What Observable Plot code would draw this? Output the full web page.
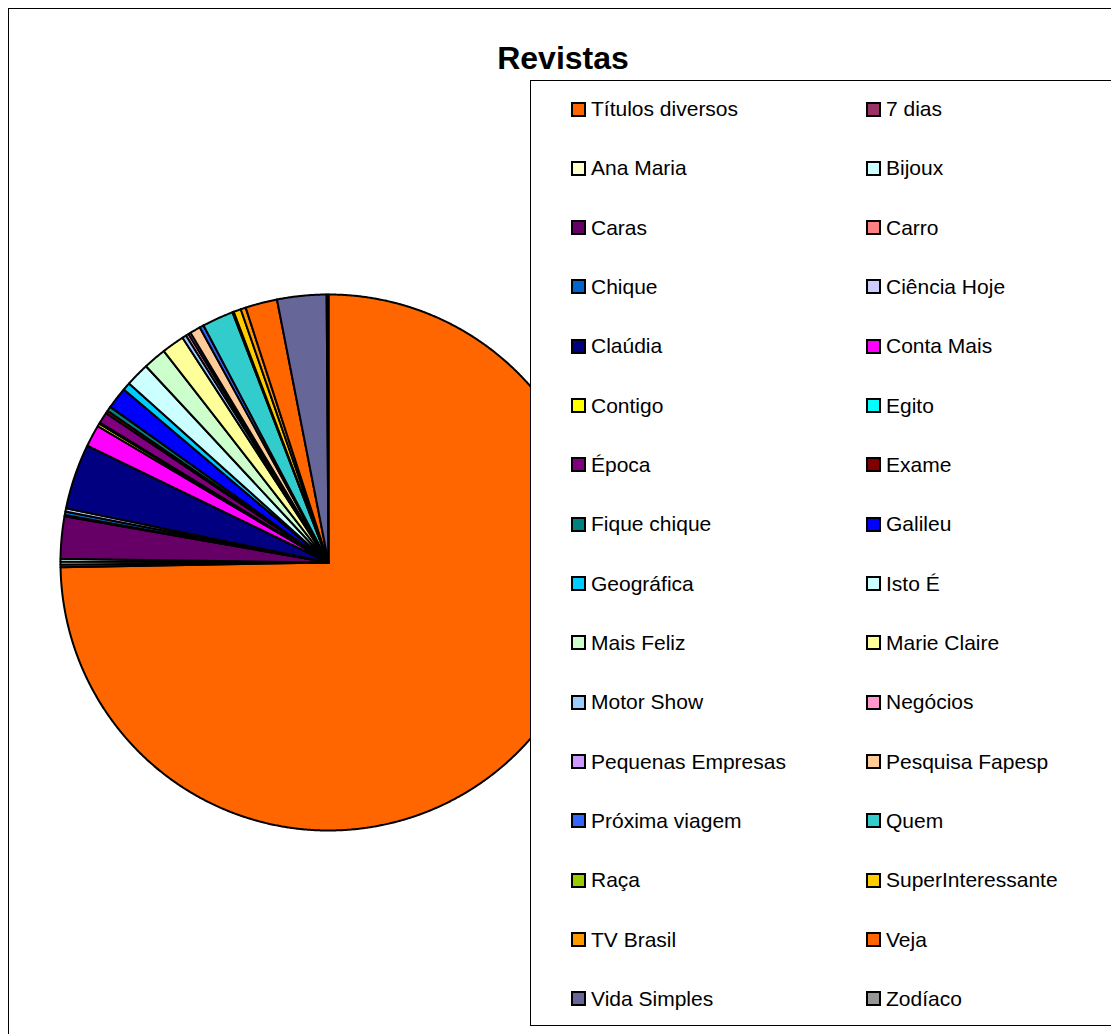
<!DOCTYPE html>
<html>
<head>
<meta charset="utf-8">
<script src="https://cdn.jsdelivr.net/npm/d3@7"></script>
<script src="https://cdn.jsdelivr.net/npm/@observablehq/plot@0.6"></script>
<style>
  html, body { margin: 0; padding: 0; background: #fff; }
  body { font-family: "Liberation Sans", Arial, sans-serif; }
  #chart { position: relative; width: 1111px; height: 1034px; overflow: hidden; }
  #chart svg { position: absolute; left: 0; top: 0; }
  #frame { position: absolute; left: 8px; top: 8px; width: 1120px; height: 1040px; border: 1px solid #000; box-sizing: border-box; pointer-events: none; }
  #title { position: absolute; left: 0; width: 1126px; top: 40px; text-align: center; font-weight: bold; font-size: 32px; line-height: 36px; color: #000; }
  #legend { position: absolute; left: 530px; top: 80px; width: 600px; height: 946px; border: 1px solid #000; background: #fff; box-sizing: border-box; }
  .item { position: absolute; height: 24px; display: flex; align-items: center; font-size: 21px; color: #000; white-space: nowrap; }
  .sw { width: 15px; height: 15px; border: 2px solid #000; box-sizing: border-box; margin-right: 5px; flex: none; }
</style>
</head>
<body>
<div id="chart"></div>
<script>
// ---- data ----
const names = [
  "Títulos diversos", "7 dias", "Ana Maria", "Bijoux", "Caras", "Carro", "Chique", "Ciência Hoje",
  "Claúdia", "Conta Mais", "Contigo", "Egito", "Época", "Exame", "Fique chique", "Galileu",
  "Geográfica", "Isto É", "Mais Feliz", "Marie Claire", "Motor Show", "Negócios", "Pequenas Empresas", "Pesquisa Fapesp",
  "Próxima viagem", "Quem", "Raça", "SuperInteressante", "TV Brasil", "Veja", "Vida Simples", "Zodíaco"
];
const values = [
  74.72, 0.17, 0.17, 0.17, 2.53, 0.08, 0.22, 0.19,
  3.94, 1.31, 0.17, 0.08, 0.67, 0.17, 0.28, 1.31,
  0.47, 1.44, 1.39, 1.36, 0.25, 0.17, 0.14, 0.64,
  0.25, 1.89, 0.08, 0.44, 0.31, 1.92, 2.97, 0.11
];
const colors = [
  "#FF6600", "#993366", "#FFFFCC", "#CCFFFF", "#660066", "#FF8080", "#0066CC", "#CCCCFF",
  "#000080", "#FF00FF", "#FFFF00", "#00FFFF", "#800080", "#800000", "#008080", "#0000FF",
  "#00CCFF", "#CCFFFF", "#CCFFCC", "#FFFF99", "#99CCFF", "#FF99CC", "#CC99FF", "#FFCC99",
  "#3366FF", "#33CCCC", "#99CC00", "#FFCC00", "#FF9900", "#FF6600", "#666699", "#969696"
];
const title = "Revistas";

// ---- build slice polygons from pie angles ----
const table = names.map((name, i) => ({name, value: values[i]}));
const arcs = d3.pie().sort(null).value(d => d.value)(table);
const pts = [];
const step = Math.PI / 720;
for (const a of arcs) {
  const name = a.data.name;
  pts.push({name, x: 0, y: 0});
  const n = Math.max(2, Math.ceil((a.endAngle - a.startAngle) / step));
  for (let k = 0; k <= n; k++) {
    const t = a.startAngle + (a.endAngle - a.startAngle) * k / n;
    pts.push({name, x: Math.sin(t), y: Math.cos(t)});
  }
}

const cx = 328, cy = 562, r = 268;
const plot = Plot.plot({
  width: 1111,
  height: 1034,
  margin: 0,
  x: {domain: [-1, 1], range: [cx - r, cx + r], axis: null},
  y: {domain: [-1, 1], range: [cy + r, cy - r], axis: null},
  color: {type: "ordinal", domain: names, range: colors},
  style: {background: "transparent"},
  marks: [
    Plot.line(pts, {x: "x", y: "y", z: "name", fill: "name", stroke: "#000", strokeWidth: 2, strokeLinejoin: "round", curve: "linear-closed"})
  ]
});

const chart = document.getElementById("chart");
chart.appendChild(plot);

const frame = document.createElement("div");
frame.id = "frame";
chart.appendChild(frame);

const t = document.createElement("div");
t.id = "title";
t.textContent = title;
chart.appendChild(t);

const legend = document.createElement("div");
legend.id = "legend";
chart.appendChild(legend);
const rowStep = 59.33;
names.forEach((name, i) => {
  const row = Math.floor(i / 2), col = i % 2;
  const it = document.createElement("div");
  it.className = "item";
  it.style.left = (col === 0 ? 40 : 335) + "px";
  it.style.top = (108 - 80 - 12 + row * rowStep) + "px";
  const sw = document.createElement("span");
  sw.className = "sw";
  sw.style.background = colors[i];
  const lab = document.createElement("span");
  lab.textContent = name;
  it.appendChild(sw);
  it.appendChild(lab);
  legend.appendChild(it);
});
</script>
</body>
</html>
